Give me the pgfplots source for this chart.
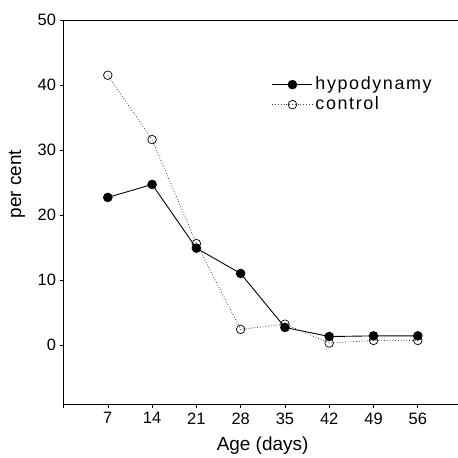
\documentclass[border=0pt]{standalone}
\usepackage{fontspec}
\setmainfont{Liberation Sans}
\newfontfamily\legfont[LetterSpace=9]{Liberation Sans}
\usepackage{pgfplots}
\pgfplotsset{compat=1.18}

\begin{document}
\begin{tikzpicture}
\begin{axis}[
    name=ax,
    scale only axis,
    width=394bp, height=384bp,
    xmin=0, xmax=62.3,
    ymin=-9.1, ymax=50,
    axis x line*=box,
    axis y line*=left,
    xtick={0,7,14,21,28,35,42,49,56},
    xticklabels={,7,14,21,28,35,42,49,56},
    ytick={0,10,20,30,40,50},
    xtick pos=bottom, ytick pos=left,
    tick align=outside,
    major tick length=4bp,
    tick style={black, line width=0.6pt},
    axis line style={black, line width=0.7pt},
    /pgf/number format/assume math mode=true,
    tick label style={font=\fontsize{16.5}{19}\selectfont},
    xticklabel style={yshift=-1bp},
    xlabel={Age (days)},
    ylabel={per cent},
    label style={font=\fontsize{19}{22}\selectfont},
    xlabel style={at={(axis description cs:0.505,-0.12)}, anchor=base},
    ylabel style={at={(axis description cs:-0.118,0.573)}, anchor=center},
    legend style={draw=none, fill=none, at={(rel axis cs:0.5285,0.857)}, anchor=north west,
                  font=\legfont\fontsize{18}{20}\selectfont, inner sep=0pt,
                  row sep=1bp, nodes={inner ysep=1bp, inner xsep=2.5bp, text height=13bp, text depth=4bp}},
    legend cell align=left,
    legend image code/.code={\draw[mark repeat=2,mark phase=2,#1] plot coordinates {(0bp,0bp) (20bp,0bp) (40bp,0bp)};},
]
  \addplot[black, line width=0.9pt, mark=*, mark size=4.3bp, mark options={solid, fill=black}]
    coordinates {(7,22.7) (14,24.7) (21,14.9) (28,11.0) (35,2.7) (42,1.3) (49,1.4) (56,1.4)};
    \addlegendentry{hypodynamy}
  \addplot[black!75, line width=0.8pt, dotted, mark=o, mark size=4.3bp, mark options={solid, black, fill=white, line width=0.7pt}]
    coordinates {(7,41.5) (14,31.6) (21,15.6) (28,2.4) (35,3.2) (42,0.3) (49,0.7) (56,0.7)};
    \addlegendentry{control}
\end{axis}
\path ([shift={(-63.5bp,-52bp)}]ax.south west) rectangle ([shift={(0bp,20bp)}]ax.north east);
\end{tikzpicture}
\end{document}
